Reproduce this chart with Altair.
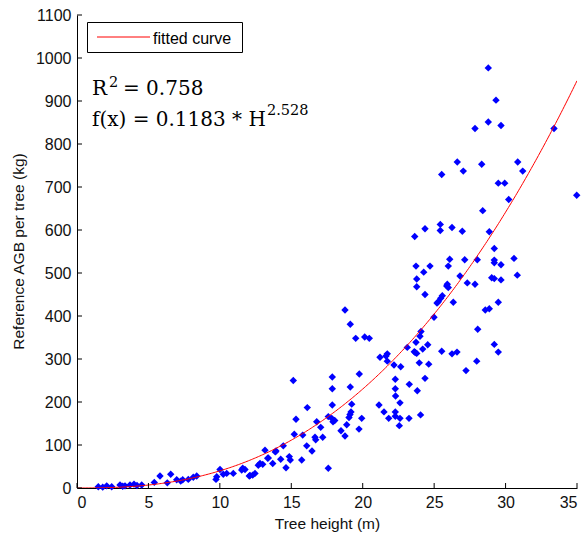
import altair as alt
import numpy as np
import pandas as pd

# Tree height (m) and reference above-ground biomass (kg) per tree
heights = [
    28.79, 29.33, 28.79, 27.86, 29.68, 33.39, 26.62, 28.33, 27.04, 25.53,
    30.85, 31.2, 29.49, 29.94, 30.22, 34.98, 28.4, 28.86, 24.36, 25.43,
    25.43, 26.25, 26.97, 23.64, 29.21, 30.59, 29.21, 29.21, 29.68, 28.02,
    27.14, 26.09, 25.99, 24.71, 23.73, 24.27, 23.78, 23.78, 24.36, 26.81,
    27.32, 27.86, 29.03, 29.21, 29.68, 30.82, 25.88, 25.99, 25.92, 25.57,
    25.46, 25.29, 25.2, 26.34, 29.49, 28.58, 28.86, 24.99, 28.05, 18.76,
    19.13, 19.51, 20.14, 20.46, 24.08, 24.01, 23.73, 24.55, 23.12, 23.61,
    23.78, 23.68, 24.2, 25.53, 26.25, 26.6, 29.21, 29.49, 27.98, 27.23,
    21.72, 21.63, 21.21, 21.72, 22.19, 22.66, 23.96, 24.62, 24.36, 23.26,
    22.28, 23.82, 22.28, 22.3, 19.76, 17.87, 17.87, 19.13, 22.61, 16.12,
    17.87, 19.23, 19.18, 19.11, 19.04, 19.93, 17.83, 17.92, 18.04, 17.59,
    18.88, 18.48, 18.76, 19.74, 16.78, 17.06, 16.66, 16.71, 17.2, 16.08,
    16.45, 15.8, 15.73, 17.59, 21.14, 21.49, 21.82, 22.28, 22.28, 22.61,
    22.56, 23.24, 24.05, 15.14, 15.33, 15.21, 14.44, 13.88, 13.16, 13.35,
    13.7, 14.26, 14.63, 14.93, 14.86, 12.81, 13.0, 12.69, 12.46, 12.3,
    12.11, 11.6, 11.76, 11.53, 10.94, 10.48, 10.24, 10.01, 9.78, 9.73,
    6.56, 5.81, 1.49, 2.08, 2.43, 3.01, 3.36, 3.71, 3.99, 4.53,
    5.41, 6.32, 6.98, 7.26, 7.4, 7.79, 8.14, 8.38, 12.06, 13.39,
    13.93, 1.8, 3.2, 4.2,
]
agb = [
    977, 902, 851, 836, 843, 836, 758, 753, 737, 729,
    758, 737, 709, 709, 671, 681, 645, 596, 603, 613,
    599, 606, 597, 585, 557, 534, 530, 524, 519, 531,
    531, 532, 516, 516, 516, 502, 486, 468, 450, 493,
    477, 474, 489, 487, 484, 495, 470, 466, 474, 447,
    441, 433, 430, 432, 432, 414, 417, 397, 369, 414,
    381, 348, 351, 348, 364, 353, 339, 333, 327, 317,
    313, 315, 323, 318, 312, 316, 334, 316, 295, 273,
    312, 307, 304, 295, 286, 282, 291, 288, 255, 241,
    253, 226, 231, 214, 265, 258, 231, 235, 198, 187,
    193, 195, 177, 171, 164, 162, 162, 154, 157, 166,
    147, 133, 121, 137, 154, 141, 118, 112, 118, 98,
    86, 123, 65, 46, 193, 177, 162, 177, 167, 162,
    145, 162, 170, 250, 160, 125, 98, 84, 88, 69,
    57, 67, 47, 65, 73, 57, 55, 53, 34, 30,
    29, 46, 43, 42, 34, 34, 32, 43, 26, 20,
    32, 28, 3, 5, 3, 7, 5, 7, 9, 7,
    13, 12, 19, 16, 19, 20, 25, 28, 28, 70,
    86, 2, 4, 6,
]

# Power-law fit f(H) = a * H^b
fit_a = 0.1183
fit_b = 2.528
fit_r2 = 0.758

x_ticks = [0, 5, 10, 15, 20, 25, 30, 35]
y_ticks = [0, 100, 200, 300, 400, 500, 600, 700, 800, 900, 1000, 1100]

W, H = 500, 473

points = pd.DataFrame({"H": heights, "AGB": agb})
grid = np.linspace(0, 35, 351)
curve = pd.DataFrame({"H": grid, "AGB": fit_a * grid ** fit_b})

xs = alt.Scale(domain=[0, 35], nice=False, zero=False)
ys = alt.Scale(domain=[0, 1100], nice=False, zero=False)

scatter = alt.Chart(points).mark_point(
    shape="diamond", filled=True, color="#0000ff", size=55, opacity=1
).encode(
    x=alt.X("H:Q", scale=xs, axis=alt.Axis(values=x_ticks, format="d", title="Tree height (m)")),
    y=alt.Y("AGB:Q", scale=ys, axis=alt.Axis(values=y_ticks, format="d", title="Reference AGB per tree (kg)")),
)

fit_line = alt.Chart(curve).mark_line(strokeWidth=1, color="#ff0000", clip=True).encode(
    x=alt.X("H:Q", scale=xs),
    y=alt.Y("AGB:Q", scale=ys),
)

# inward tick marks along both axes
xt = alt.Chart(pd.DataFrame({"H": x_ticks})).mark_rule(color="black", strokeWidth=1).encode(
    x=alt.X("H:Q", scale=xs), y=alt.value(H), y2=alt.value(H - 5)
)
yt = alt.Chart(pd.DataFrame({"AGB": y_ticks})).mark_rule(color="black", strokeWidth=1).encode(
    y=alt.Y("AGB:Q", scale=ys), x=alt.value(0), x2=alt.value(5)
)

one = pd.DataFrame({"t": ["fitted curve"]})

# legend box for the fitted curve
legend_box = alt.Chart(one).mark_rect(fill="white", stroke="black", strokeWidth=1).encode(
    x=alt.value(10.5), x2=alt.value(165.5), y=alt.value(7.5), y2=alt.value(37.5)
)
legend_line = alt.Chart(one).mark_rule(color="#ff0000", strokeWidth=1).encode(
    x=alt.value(20), x2=alt.value(73), y=alt.value(22), y2=alt.value(22)
)
legend_text = alt.Chart(one).mark_text(
    font="Liberation Sans", fontSize=16, align="left", baseline="alphabetic", color="black"
).encode(text="t:N", x=alt.value(76), y=alt.value(29))

serif = "DejaVu Serif"
main_size = 20
sup_size = 14.5


def label(text, x, y, size):
    return alt.Chart(pd.DataFrame({"t": [text]})).mark_text(
        font=serif, fontSize=size, align="left", baseline="alphabetic", color="black"
    ).encode(text="t:N", x=alt.value(x), y=alt.value(y))


annotations = (
    label("R", 15, 80, main_size)
    + label("2", 32, 72, sup_size)
    + label(f"= {fit_r2:.3f}", 46, 80, main_size)
    + label(f"f(x) = {fit_a} * H", 15, 111, main_size)
    + label(f"{fit_b}", 190, 100, sup_size)
)

chart = alt.layer(
    scatter, fit_line, xt, yt, legend_box, legend_line, legend_text, annotations
).properties(
    width=W, height=H,
    autosize=alt.AutoSizeParams(type="none"),
    padding={"left": 77, "top": 15, "right": 7, "bottom": 49},
    background="white",
).configure_view(stroke=None).configure_axis(
    grid=False, ticks=False, tickSize=0, domainColor="black", domainWidth=1,
    labelFont="Liberation Sans", labelFontSize=16, labelColor="#111111",
    titleFont="Liberation Sans", titleFontSize=15.5, titleColor="#111111",
    titleFontWeight="normal",
).configure_axisX(
    labelPadding=6, titleY=40, titleBaseline="alphabetic",
).configure_axisY(
    labelPadding=6, titleX=-59, titleY=236, titleAngle=-90, titleBaseline="middle",
    titleAlign="center",
)

chart.save("out.html", embed_options={"renderer": "svg", "actions": False})
